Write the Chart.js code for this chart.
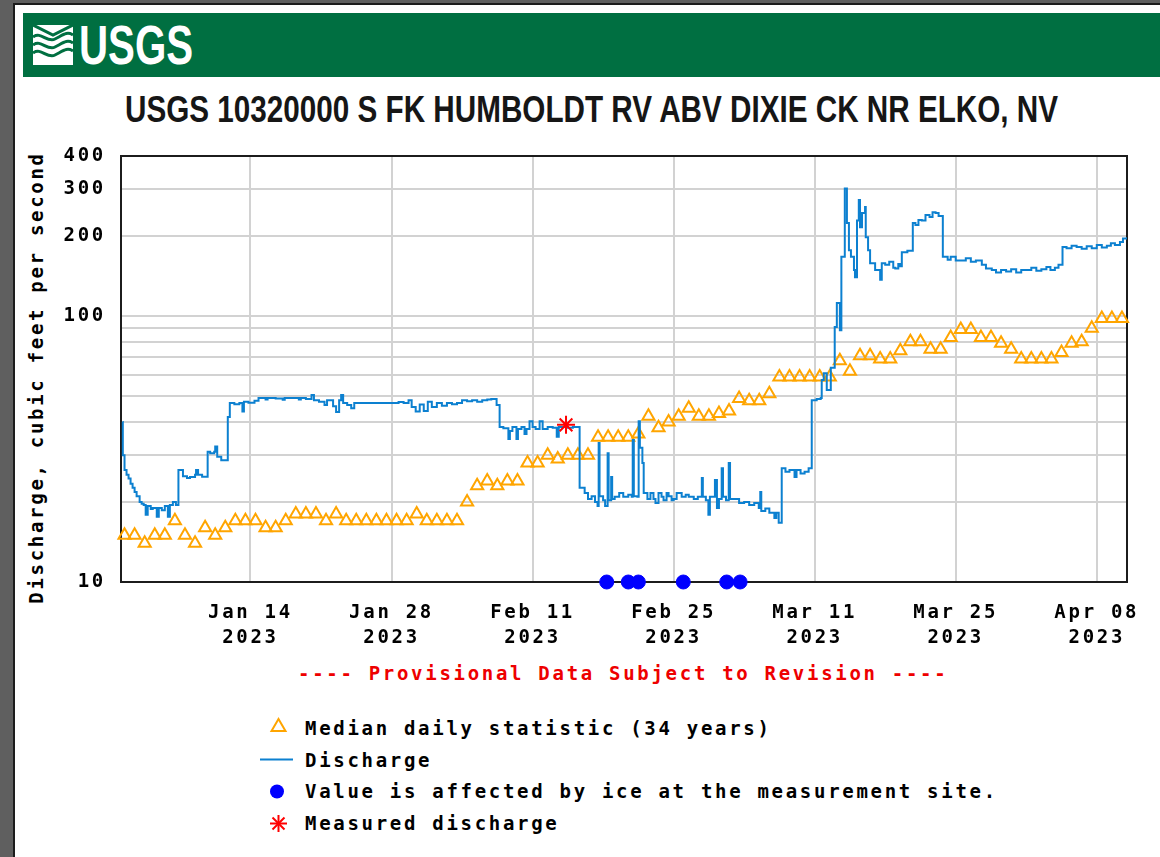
<!DOCTYPE html>
<html>
<head>
<meta charset="utf-8">
<script src="https://cdn.jsdelivr.net/npm/chart.js@4.4.1/dist/chart.umd.min.js"></script>
<style>
  html, body { margin: 0; padding: 0; width: 1160px; height: 857px; overflow: hidden; background: #5f5f5f; }
  #page { position: absolute; left: 13px; top: 3px; width: 1147px; height: 854px; background: #fff;
          border-left: 2px solid #1c1c1c; border-top: 2px solid #1c1c1c; box-sizing: border-box; }
  #banner { position: absolute; left: 23px; top: 13px; width: 1137px; height: 64px; background: #006f41; }
  #logoText { position: absolute; left: 79px; top: 17px; font-family: 'Liberation Sans Narrow', 'Liberation Sans', Arial, sans-serif;
              font-weight: bold; font-size: 56px; line-height: 56px; color: #fff; white-space: nowrap; transform-origin: left top; }
  #title { position: absolute; left: 125px; top: 92px; font-family: 'Liberation Sans Narrow', 'Liberation Sans', Arial, sans-serif;
           font-weight: bold; font-size: 36px; line-height: 36px; color: #161616; white-space: nowrap; transform-origin: left top; }
  .mono { font-family: 'DejaVu Sans Mono', 'Liberation Mono', monospace; font-weight: bold; font-size: 19px; line-height: 19px;
          letter-spacing: 2.7px; white-space: nowrap; position: absolute; color: #000; }
  #ytitle { left: -194px; top: 368px; width: 460px; text-align: center; transform: rotate(-90deg); }
  #prov { left: 298px; top: 664px; color: #ee0000; }
  #chartCanvas { position: absolute; left: 0; top: 0; z-index: 2; }
  #legendSym { position: absolute; left: 0; top: 0; z-index: 3; }
</style>
</head>
<body>
<div id="page"></div>
<div id="banner"></div>
<svg id="logoIcon" style="position:absolute;left:33px;top:25px" width="40" height="40" viewBox="0 0 40 40">
  <rect x="0" y="0" width="40" height="40" fill="#fff"/>
  <path d="M0 12 C8 6, 14 18, 22 14 S34 6, 40 10" stroke="#006f41" stroke-width="3" fill="none"/>
  <path d="M0 20 C8 14, 14 26, 22 22 S34 14, 40 18" stroke="#006f41" stroke-width="3" fill="none"/>
  <path d="M0 28 C8 22, 14 34, 22 30 S34 22, 40 26" stroke="#006f41" stroke-width="3" fill="none"/>
  <path d="M0 0 L20 10 L40 0" stroke="#006f41" stroke-width="3" fill="none"/>
</svg>
<div id="logoText">USGS</div>
<div id="title">USGS 10320000 S FK HUMBOLDT RV ABV DIXIE CK NR ELKO, NV</div>
<div class="mono" id="ytitle">Discharge, cubic feet per second</div>
<div class="mono" id="prov">---- Provisional Data Subject to Revision ----</div>
<div class="mono" style="left:305px;top:719px">Median daily statistic (34 years)</div>
<div class="mono" style="left:305px;top:751px">Discharge</div>
<div class="mono" style="left:305px;top:782px">Value is affected by ice at the measurement site.</div>
<div class="mono" style="left:305px;top:814px">Measured discharge</div>
<svg id="legendSym" width="1160" height="857">
  <polygon points="278.5,719 271.5,731 285.5,731" fill="none" stroke="#ffa500" stroke-width="2"/>
  <line x1="260" y1="759.5" x2="293" y2="759.5" stroke="#0c80d0" stroke-width="2"/>
  <circle cx="277" cy="791.5" r="7" fill="#0000ff"/>
  <g stroke="#ff0000" stroke-width="2">
    <line x1="270" y1="823.5" x2="287" y2="823.5"/>
    <line x1="278.5" y1="815" x2="278.5" y2="832"/>
    <line x1="272.5" y1="817.5" x2="284.5" y2="829.5"/>
    <line x1="284.5" y1="817.5" x2="272.5" y2="829.5"/>
  </g>
</svg>
<canvas id="chartCanvas" width="1160" height="857" style="width:1160px;height:857px"></canvas>
<script>
// ---------- data ----------
const tickDays = [13, 27, 41, 55, 69, 83, 97];           // days since Jan 1 2023
const tickMonthDay = ['Jan 14', 'Jan 28', 'Feb 11', 'Feb 25', 'Mar 11', 'Mar 25', 'Apr 08'];
const tickYear = ['2023', '2023', '2023', '2023', '2023', '2023', '2023'];
const yGridValues = [10, 20, 30, 40, 50, 60, 70, 80, 90, 100, 200, 300, 400];
const yLabelValues = [10, 100, 200, 300, 400];

// median daily statistic, one value per day starting Jan 1 (plotted at noon)
const medianCfs = [
  15, 15, 14, 15, 15, 17, 15, 14, 16, 15,
  16, 17, 17, 17, 16, 16, 17, 18, 18, 18,
  17, 18, 17, 17, 17, 17, 17, 17, 17, 18,
  17, 17, 17, 17, 20, 23, 24, 23, 24, 24,
  28, 28, 30, 29, 30, 30, 30, 35, 35, 35,
  35, 36, 42, 38, 40, 42, 45, 42, 42, 43,
  44, 49, 48, 48, 51, 59, 59, 59, 59, 59,
  59, 68, 62, 71, 71, 69, 69, 74, 80, 80,
  75, 75, 83, 89, 89, 83, 83, 79, 75, 69,
  69, 69, 69, 73, 79, 80, 90, 98, 98, 98
];

// discharge [day since Jan 1, cfs] (value held until the next reading)
const dischargeSeries = [
  [0.29, 40], [0.33, 30], [0.5, 26.4], [0.7, 25.3], [0.9, 24.5], [1.1, 23.4], [1.3, 22.6], [1.5, 21.8],
  [1.7, 21.0], [2.0, 20.0], [2.2, 19.7], [2.4, 19.5], [2.6, 17.9], [2.8, 19.3], [3.1, 18.8], [3.3, 19.0],
  [3.7, 17.6], [3.9, 19.0], [4.2, 18.6], [4.5, 19.3], [4.8, 17.6], [5.0, 19.5], [5.3, 20.0], [5.6, 19.5],
  [5.85, 26.4], [6.25, 26.4], [6.3, 25.0], [6.7, 24.6], [7.0, 24.8], [7.5, 25.3], [7.6, 26.4],
  [7.8, 25.3], [8.2, 24.9], [8.75, 30.9], [9.0, 30.5], [9.4, 30.9], [9.5, 32.3], [9.7, 29.6], [10.1, 28.7],
  [10.75, 41.7], [10.95, 47.1], [11.4, 46.6], [11.9, 47.1], [12.2, 43.8], [12.35, 47.6], [12.8, 47.2],
  [13.4, 48.0], [13.8, 49.2], [14.5, 48.6], [14.7, 49.2], [15.5, 49.0], [16.2, 48.5], [16.4, 49.2],
  [17.0, 49.2], [17.8, 48.6], [18.0, 49.2], [18.5, 48.8], [19.06, 50.5], [19.3, 48.3], [19.8, 47.6],
  [20.35, 46.3], [20.6, 48.3], [21.2, 45.8], [21.5, 43.6], [21.8, 48.3], [22.0, 50.5], [22.2, 47.1],
  [22.6, 46.3], [23.0, 45.0], [23.3, 47.1], [27.7, 47.5], [28.2, 47.1], [28.69, 48.3], [29.0, 45.5],
  [29.4, 43.8], [29.8, 46.5], [30.2, 44.0], [30.6, 47.6], [31.0, 45.5], [31.5, 47.1], [32.0, 46.0],
  [32.5, 47.1], [33.0, 46.6], [33.5, 47.1], [34.0, 48.3], [34.5, 47.8], [35.0, 48.3], [35.5, 47.6],
  [36.0, 48.3], [36.5, 48.6], [36.9, 48.8], [37.43, 46.3], [37.73, 38.3], [38.1, 37.9], [38.6, 34.5],
  [38.75, 37.0], [39.0, 38.3], [39.4, 34.5], [39.55, 37.6], [39.9, 38.3], [40.2, 36.0], [40.4, 37.6],
  [40.7, 40.2], [41.0, 38.3], [41.3, 37.6], [41.7, 40.2], [42.0, 37.6], [42.5, 38.3], [43.0, 38.0],
  [43.4, 35.2], [43.6, 38.3], [44.5, 38.0], [45.0, 38.3], [45.67, 22.6], [46.17, 21.6], [46.5, 20.5],
  [46.86, 21.0], [47.2, 20.0], [47.45, 19.3], [47.56, 33.3], [47.65, 21.0], [48.0, 20.3], [48.2, 19.3],
  [48.45, 30.5], [48.55, 20.3], [48.8, 24.8], [48.9, 20.5], [49.15, 20.9], [49.6, 21.6], [50.0, 20.9],
  [50.5, 21.3], [50.84, 20.9], [50.94, 34.2], [51.05, 21.0], [51.4, 20.9], [51.53, 40.2], [51.65, 32.0],
  [51.9, 28.0], [52.03, 21.6], [52.4, 20.5], [52.7, 21.6], [53.0, 20.5], [53.2, 19.8], [53.5, 21.6],
  [53.8, 20.9], [54.0, 20.3], [54.3, 21.6], [54.5, 21.0], [54.8, 20.3], [55.0, 20.5], [55.3, 21.6],
  [55.8, 20.9], [56.2, 21.3], [56.5, 20.9], [57.0, 20.5], [57.4, 20.9], [57.8, 24.6], [57.9, 20.9],
  [58.2, 20.3], [58.45, 17.9], [58.6, 20.9], [59.1, 24.2], [59.3, 19.0], [59.5, 20.5], [59.77, 26.8],
  [59.9, 20.9], [60.2, 20.3], [60.47, 28.0], [60.6, 20.5], [61.06, 20.5], [61.5, 19.8], [62.0, 20.0],
  [62.5, 19.5], [63.0, 19.8], [63.45, 19.0], [63.6, 21.8], [63.7, 18.5], [64.1, 18.9], [64.5, 18.2],
  [65.0, 17.4], [65.2, 18.2], [65.43, 16.7], [65.73, 26.8], [66.1, 26.0], [66.5, 26.4], [67.0, 24.8],
  [67.2, 26.4], [67.6, 25.6], [68.0, 26.0], [68.4, 26.8], [68.71, 48.3], [69.2, 48.8], [69.6, 49.2],
  [69.7, 57.5], [69.9, 61], [70.2, 52.7], [70.6, 64], [70.99, 91], [71.2, 112], [71.5, 88.5], [71.65, 167],
  [71.99, 302], [72.2, 224], [72.4, 177], [72.6, 167], [72.9, 149], [73.0, 140], [73.2, 229], [73.38, 273],
  [73.5, 216], [73.7, 244], [74.0, 257], [74.07, 198], [74.3, 177], [74.5, 158], [75.0, 149], [75.5, 137],
  [75.66, 158], [76.0, 156], [76.4, 160], [76.8, 152], [77.0, 151], [77.3, 157], [77.5, 154], [77.65, 174],
  [78.2, 176], [78.74, 224], [79.0, 220], [79.3, 230], [79.63, 229], [80.0, 240], [80.4, 236], [80.7, 246],
  [81.0, 244], [81.3, 238], [81.72, 167], [82.2, 163], [82.5, 167], [83.0, 162], [83.61, 162], [84.0, 165],
  [84.5, 160], [85.0, 162], [85.59, 156], [86.0, 151], [86.58, 149], [87.0, 146], [87.5, 149], [88.0, 147],
  [88.5, 150], [89.0, 146], [89.5, 149], [90.0, 149], [90.5, 152], [91.0, 148], [91.5, 150], [92.0, 153],
  [92.4, 149], [92.84, 152], [93.2, 156], [93.6, 182], [94.0, 180], [94.5, 184], [95.0, 182], [95.5, 179],
  [96.0, 183], [96.5, 180], [97.0, 185], [97.5, 181], [98.0, 184], [98.4, 188], [98.8, 185], [99.3, 190],
  [99.6, 196], [99.99, 198]
];

// ice-affected values (plotted on the axis) and measured discharge
const iceDays = [48.36, 50.5, 51.5, 55.96, 60.27, 61.6];
const iceCfs = [10, 10, 10, 10, 10, 10];
const measuredDays = [44.32];
const measuredCfs = [39];

// ---------- layout helpers ----------
function fitWidth(id, w) {
  const el = document.getElementById(id);
  const r = el.getBoundingClientRect().width;
  el.style.transform = 'scaleX(' + (w / r) + ')';
}
fitWidth('logoText', 114);
fitWidth('title', 933);

const monoFont = { family: "'DejaVu Sans Mono', 'Liberation Mono', monospace", size: 19, weight: 'bold', lineHeight: '25px' };
const spacingPlugin = {
  id: 'spacing',
  beforeDraw(c) { c.ctx.letterSpacing = '2.7px'; },
  afterDraw(c) { c.ctx.letterSpacing = '0px'; }
};
const framePlugin = {
  id: 'frame',
  beforeDatasetsDraw(c) {
    const a = c.chartArea, ctx = c.ctx;
    ctx.save();
    ctx.strokeStyle = '#1c1c1c';
    ctx.lineWidth = 2;
    ctx.strokeRect(a.left, a.top, a.right - a.left, a.bottom - a.top);
    ctx.restore();
  }
};

new Chart(document.getElementById('chartCanvas'), {
  type: 'line',
  data: {
    datasets: [
      {
        label: 'Measured discharge',
        data: measuredDays.map((d, i) => ({ x: d, y: measuredCfs[i] })),
        showLine: false, pointStyle: 'star', pointRadius: 9, pointBorderWidth: 2,
        borderColor: '#ff0000', backgroundColor: '#ff0000', order: 0
      },
      {
        label: 'Value is affected by ice at the measurement site.',
        data: iceDays.map((d, i) => ({ x: d, y: iceCfs[i] })),
        showLine: false, pointStyle: 'circle', pointRadius: 7, pointBorderWidth: 1,
        borderColor: '#0000ff', backgroundColor: '#0000ff', clip: false, order: 1
      },
      {
        label: 'Discharge',
        data: dischargeSeries.map(p => ({ x: p[0], y: p[1] })),
        borderColor: '#0c80d0', borderWidth: 2, pointRadius: 0, stepped: true, order: 2
      },
      {
        label: 'Median daily statistic (34 years)',
        data: medianCfs.map((v, i) => ({ x: i + 0.5, y: v })),
        showLine: false, pointStyle: 'triangle', pointRadius: 7, pointBorderWidth: 2,
        borderColor: '#ffa500', backgroundColor: 'rgba(255,255,255,0)', clip: false, order: 3
      }
    ]
  },
  options: {
    responsive: false,
    animation: false,
    devicePixelRatio: 1,
    layout: { padding: { left: 26, top: 156, right: 33, bottom: 0 } },
    plugins: { legend: { display: false }, title: { display: false }, tooltip: { enabled: false } },
    scales: {
      x: {
        type: 'linear', min: 0.15, max: 100.0,
        afterBuildTicks: s => { s.ticks = tickDays.map(v => ({ value: v })); },
        afterFit: s => { s.height = 857 - 582; },
        grid: { color: '#d2d2d2', lineWidth: 2, drawTicks: false },
        border: { display: true, color: '#1c1c1c', width: 2 },
        ticks: {
          autoSkip: false, maxRotation: 0, minRotation: 0, padding: 18.5, color: '#000', font: monoFont,
          callback: v => { const i = tickDays.indexOf(v); return i >= 0 ? [tickMonthDay[i], tickYear[i]] : ''; }
        }
      },
      y: {
        type: 'logarithmic', min: 10, max: 400,
        afterBuildTicks: s => { s.ticks = yGridValues.map(v => ({ value: v })); },
        afterFit: s => { s.width = 95; },
        grid: { color: '#d2d2d2', lineWidth: 2, drawTicks: false },
        border: { display: true, color: '#1c1c1c', width: 2 },
        ticks: {
          autoSkip: false, padding: 15, color: '#000', font: monoFont,
          callback: v => yLabelValues.includes(v) ? String(v) : ''
        }
      }
    }
  },
  plugins: [spacingPlugin, framePlugin]
});
</script>
</body>
</html>
